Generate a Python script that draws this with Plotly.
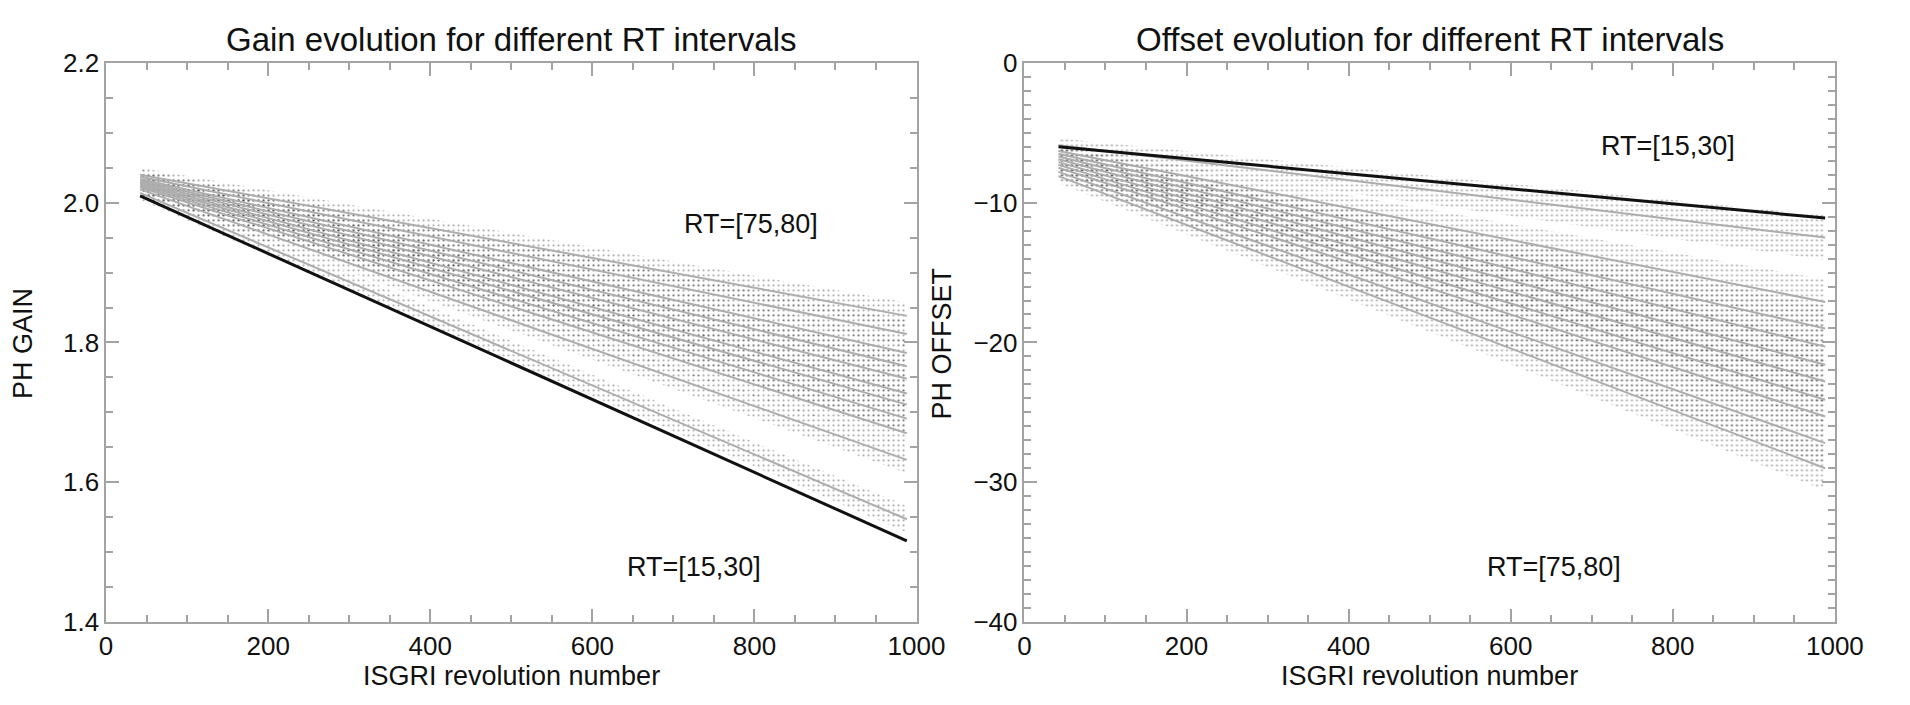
import plotly.graph_objects as go

# ---------------- data ----------------
x_start = 42      # first ISGRI revolution of the fitted lines
x_end = 988       # last ISGRI revolution of the fitted lines

# Gain panel: grey fit lines, from RT=[75,80] (top) down to the one next to RT=[15,30]
gain_start = [2.040, 2.037, 2.034, 2.032, 2.030, 2.028, 2.026, 2.024, 2.022, 2.019, 2.014]
gain_end = [1.838, 1.812, 1.785, 1.766, 1.748, 1.727, 1.711, 1.691, 1.670, 1.632, 1.547]
gain_black = [2.0096, 1.516]          # RT=[15,30] fit (start, end)
gain_spread = [0.010, 0.019]          # half-width of the point cloud (start, end)

# Offset panel: grey fit lines, from the one next to RT=[15,30] down to RT=[75,80]
offset_start = [-5.9, -6.3, -6.5, -6.7, -6.9, -7.1, -7.3, -7.5, -7.8, -8.1]
offset_end = [-12.5, -17.1, -19.0, -20.3, -21.6, -22.8, -24.1, -25.3, -27.2, -29.0]
offset_black = [-6.0, -11.1]          # RT=[15,30] fit (start, end)
offset_spread = [0.5, 1.6]

gain_labels = [("RT=[75,80]", 796, 1.970), ("RT=[15,30]", 725, 1.4785)]
offset_labels = [("RT=[15,30]", 794, -5.94), ("RT=[75,80]", 653, -36.07)]

x_ticks = [0, 200, 400, 600, 800, 1000]
gain_ticks = [1.4, 1.6, 1.8, 2.0, 2.2]
offset_ticks = [-40, -30, -20, -10, 0]

# ---------------- styling ----------------
FONT = "Liberation Sans, Arial, Helvetica, sans-serif"
AX_GREY = "#a3a3a3"
LINE_GREY = "#adadad"
DOT = "#4a4a4a"

fig = go.Figure()


def add_panel(starts, ends, black, spread, xa, ya):
    for s, e in zip(starts, ends):
        fig.add_trace(go.Scatter(
            x=[x_start, x_end, x_end, x_start, x_start],
            y=[s + spread[0], e + spread[1], e - spread[1], s - spread[0], s + spread[0]],
            mode="lines", line=dict(width=0), fill="toself",
            fillcolor="rgba(0,0,0,0)",
            fillpattern=dict(shape=".", size=5, solidity=0.15, fgcolor=DOT,
                             fgopacity=0.5, bgcolor="rgba(0,0,0,0)"),
            xaxis=xa, yaxis=ya, showlegend=False, hoverinfo="skip"))
    for s, e in zip(starts, ends):
        fig.add_trace(go.Scatter(
            x=[x_start, x_end], y=[s, e], mode="lines",
            line=dict(color=LINE_GREY, width=2),
            xaxis=xa, yaxis=ya, showlegend=False))
    fig.add_trace(go.Scatter(
        x=[x_start, x_end], y=black, mode="lines",
        line=dict(color="#111111", width=3),
        xaxis=xa, yaxis=ya, showlegend=False))


add_panel(gain_start, gain_end, gain_black, gain_spread, "x", "y")
add_panel(offset_start, offset_end, offset_black, offset_spread, "x2", "y2")

ydom = [1 - 634 / 705, 1 - 50 / 705]
common = dict(
    showgrid=False, zeroline=False, showline=True, linecolor=AX_GREY, linewidth=1.5,
    mirror="ticks", ticks="inside", ticklen=13, tickwidth=1.5, tickcolor=AX_GREY,
    tickfont=dict(family=FONT, size=26, color="#111111"),
)
minor_x = dict(dtick=50, ticks="inside", ticklen=7, tickcolor=AX_GREY, tickwidth=1.5)
fig.update_layout(
    width=1910, height=705,
    margin=dict(l=0, r=0, t=0, b=0),
    paper_bgcolor="white", plot_bgcolor="white",
    font=dict(family=FONT, color="#111111"),
    xaxis=dict(domain=[101 / 1910, 927 / 1910], range=[0, 1000], tickvals=x_ticks,
               minor=minor_x, anchor="y", **common),
    yaxis=dict(domain=ydom, range=[1.4, 2.2], tickvals=gain_ticks, tickformat=".1f",
               minor=dict(dtick=0.05, ticks="inside", ticklen=7, tickcolor=AX_GREY, tickwidth=1.5),
               anchor="x", **common),
    xaxis2=dict(domain=[1037 / 1910, 1863 / 1910], range=[0, 1000], tickvals=x_ticks,
                minor=minor_x, anchor="y2", **common),
    yaxis2=dict(domain=ydom, range=[-40, 0], tickvals=offset_ticks,
                minor=dict(dtick=1, ticks="inside", ticklen=7, tickcolor=AX_GREY, tickwidth=1.5),
                anchor="x2", **common),
)

ann = []
for txt, x, y in gain_labels:
    ann.append(dict(text=txt, x=x, y=y, xref="x", yref="y", showarrow=False,
                    font=dict(family=FONT, size=27, color="#111111")))
for txt, x, y in offset_labels:
    ann.append(dict(text=txt, x=x, y=y, xref="x2", yref="y2", showarrow=False,
                    font=dict(family=FONT, size=27, color="#111111")))

titles = [("Gain evolution for different RT intervals", 514 / 1910),
          ("Offset evolution for different RT intervals", 1450 / 1910)]
for txt, xc in titles:
    ann.append(dict(text=txt, x=xc, y=1 - 26 / 705, xref="paper", yref="paper",
                    showarrow=False, xanchor="center", yanchor="middle",
                    font=dict(family=FONT, size=33, color="#111111")))
for xc in (514 / 1910, 1450 / 1910):
    ann.append(dict(text="ISGRI revolution number", x=xc, y=1 - 690 / 705,
                    xref="paper", yref="paper", showarrow=False,
                    xanchor="center", yanchor="middle",
                    font=dict(family=FONT, size=27, color="#111111")))
for txt, xc in (("PH GAIN", 17 / 1910), ("PH OFFSET", 953 / 1910)):
    ann.append(dict(text=txt, x=xc, y=1 - 343 / 705, xref="paper", yref="paper",
                    showarrow=False, textangle=-90, xanchor="center", yanchor="middle",
                    font=dict(family=FONT, size=27, color="#111111")))
fig.update_layout(annotations=ann)

fig.write_html("out.html")
